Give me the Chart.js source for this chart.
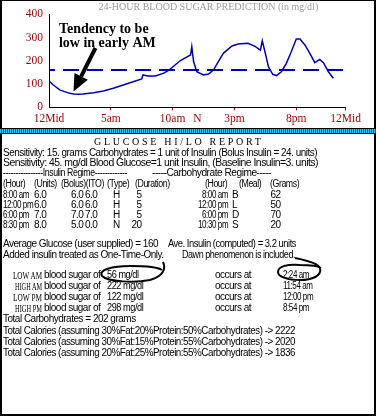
<!DOCTYPE html>
<html>
<head>
<meta charset="utf-8">
<script src="https://cdn.jsdelivr.net/npm/chart.js@4.4.1/dist/chart.umd.min.js"></script>
<style>
  body { margin: 0; background: #fff; width: 376px; height: 416px; position: relative; overflow: hidden; }
  #chartBox { position: absolute; left: 0; top: 0; width: 376px; height: 129px; box-sizing: border-box;
    border-style: solid; border-color: #000; border-width: 1px 2px 1px 2px; }
  #chartBox canvas { display: block; }
  #stripe { position: absolute; left: 0; top: 129px; width: 376px; height: 4px;
    background: repeating-linear-gradient(90deg, #30c8ff 0 1px, #0040d0 1px 2px); }
  #report { position: absolute; left: 0; top: 133px; width: 376px; height: 283px; box-sizing: border-box;
    border-style: solid; border-color: #000; border-width: 1px 2px 2px 2px; }
  .ln { position: absolute; white-space: pre; line-height: 11px; height: 11px; color: #000;
    font: 10px "Liberation Sans", Arial, sans-serif; letter-spacing: -0.5px; transform-origin: 0 0; }
  .ln.serif { font: 11px "Liberation Serif", serif; letter-spacing: 0; }
  .ln.head { font: 10px "Liberation Serif", serif; letter-spacing: 2.7px; }
  #marks { position: absolute; left: 0; top: 0; pointer-events: none; }
</style>
</head>
<body>
<div id="chartBox"><canvas id="bgChart" width="372" height="127"></canvas></div>
<div id="stripe"></div>
<div id="report"></div>
<svg id="marks" width="376" height="416">
  <path d="M163 262 C166 268, 164 276, 150 280 C135 283, 108 282, 102 276 C98 270, 112 266, 130 266 C145 266, 158 267, 162 270"
        fill="none" stroke="#000" stroke-width="2"/>
  <path d="M295 258 C305 260, 318 263, 320 268 C322 276, 312 280, 300 280 C288 280, 278 277, 278 272 C278 266, 288 264, 300 265 C310 265, 318 266, 321 268"
        fill="none" stroke="#000" stroke-width="2"/>
</svg>
<script>
// chart data
const hours = [0, 0.35, 0.9, 1.7, 2.0, 2.4, 2.75, 3.6, 4.4, 5.2, 6.0, 6.8, 7.5, 7.6, 8.0, 8.6, 9.25, 9.7,
  10.2, 10.6, 11.1, 11.45, 11.55, 11.7, 11.95, 12.5, 12.9, 13.3, 13.7, 14.1, 14.8, 15.3, 16.1, 16.7,
  17.1, 17.25, 17.5, 17.75, 17.9, 18.1, 18.4, 18.8, 19.2, 19.6, 20.0, 20.3, 20.7, 21.1, 21.5, 21.9,
  22.2, 22.6, 23.0];
const glucose = [113, 96, 74, 60, 57, 56, 57, 63, 70, 82, 96, 110, 122, 139, 135, 135, 146, 160,
  182, 200, 215, 225, 261, 196, 153, 139, 143, 160, 196, 232, 264, 272, 275, 261,
  246, 286, 232, 175, 160, 142, 136, 153, 189, 239, 294, 294, 268, 232, 192, 206,
  192, 153, 125];
const avgGlucose = 160;
const tickHours = [0, 5, 10, 12, 15, 20, 24];
const tickNames = ['12Mid', '5am', '10am', 'N', '3pm', '8pm', '12Mid'];
const chartTitle = '24-HOUR BLOOD SUGAR PREDICTION (in mg/dl)';
const noteLines = ['Tendency to be', 'low in early AM'];

// report data
const insulinHours = ['8:00 am', '12:00 pm', '6:00 pm', '8:30 pm'];
const insulinUnits = ['6.0', '6.0', '7.0', '8.0'];
const bolus = ['6.0', '6.0', '7.0', '5.0'];
const ito = ['6.0', '6.0', '7.0', '0.0'];
const insulinType = ['H', 'H', 'H', 'N'];
const duration = ['5', '5', '5', '20'];
const mealHours = ['8:00 am', '12:00 pm', '6:00 pm', '10:30 pm'];
const meals = ['B', 'L', 'D', 'S'];
const grams = ['62', '50', '70', '20'];
const hiloLabels = ['LOW AM', 'HIGH AM', 'LOW PM', 'HIGH PM'];
const hiloValues = ['56 mg/dl', '222 mg/dl', '122 mg/dl', '298 mg/dl'];
const hiloTimes = ['2:24 am', '11:54 am', '12:00 pm', '8:54 pm'];

const red = '#990000';
const blue = '#0000a8';

const noteLayer = {
    id: 'noteLayer',
    afterDatasetsDraw(chart) {
        const { ctx, chartArea, scales: { x, y } } = chart;
        ctx.save();

        ctx.fillStyle = '#9c9c9c';
        ctx.font = '10px "Liberation Serif"';
        ctx.textAlign = 'center';
        ctx.textBaseline = 'middle';
        ctx.fillText(chartTitle, (chartArea.left + chartArea.right) / 2 + 11, 6);

        ctx.fillStyle = '#000';
        ctx.font = 'bold 14px "Liberation Serif"';
        ctx.textAlign = 'left';
        ctx.textBaseline = 'alphabetic';
        ctx.fillText(noteLines[0], x.getPixelForValue(0.8), y.getPixelForValue(318));
        ctx.fillText(noteLines[1], x.getPixelForValue(0.8), y.getPixelForValue(261));

        // arrow pointing at the early morning low
        const tx = x.getPixelForValue(3.76), ty = y.getPixelForValue(255);
        const px = x.getPixelForValue(1.98), py = y.getPixelForValue(68);
        const len = Math.hypot(px - tx, py - ty);
        const ux = (px - tx) / len, uy = (py - ty) / len;
        const bx = px - ux * 17, by = py - uy * 17;
        ctx.strokeStyle = '#000';
        ctx.lineWidth = 4;
        ctx.beginPath();
        ctx.moveTo(tx, ty);
        ctx.lineTo(bx, by);
        ctx.stroke();
        ctx.beginPath();
        ctx.moveTo(px, py);
        ctx.lineTo(bx - uy * 7.5, by + ux * 7.5);
        ctx.lineTo(bx + uy * 7.5, by - ux * 7.5);
        ctx.closePath();
        ctx.fill();

        ctx.restore();
    },
};

new Chart(document.getElementById('bgChart'), {
    type: 'line',
    data: {
        datasets: [
            {
                data: hours.map((h, i) => ({ x: h, y: glucose[i] })),
                borderColor: blue,
                borderWidth: 1.5,
                pointRadius: 0,
                tension: 0,
                fill: false,
            },
            {
                data: [{ x: 0, y: avgGlucose }, { x: 24, y: avgGlucose }],
                borderColor: blue,
                borderWidth: 2,
                borderDash: [16, 8],
                borderDashOffset: 10,
                pointRadius: 0,
                fill: false,
            },
        ],
    },
    options: {
        responsive: false,
        animation: false,
        devicePixelRatio: 1,
        layout: { padding: { top: 13.3, right: 28.3, bottom: 0, left: 0 } },
        plugins: { legend: { display: false }, tooltip: { enabled: false } },
        scales: {
            x: {
                type: 'linear',
                min: 0,
                max: 24,
                afterBuildTicks: (scale) => {
                    scale.ticks = tickHours.map((v) => ({ value: v }));
                },
                afterFit: (scale) => {
                    scale.height = 20.7;
                },
                ticks: {
                    color: red,
                    autoSkip: false,
                    maxRotation: 0,
                    padding: 2,
                    font: { family: '"Liberation Serif"', size: 11.5 },
                    callback: (value, index) => tickNames[index],
                },
                grid: {
                    drawOnChartArea: false,
                    drawTicks: true,
                    tickLength: 3,
                    color: (c) => (c.tick && (c.tick.value === 0 || c.tick.value === 12)) ? 'rgba(0,0,0,0)' : red,
                },
                border: { color: '#000', width: 1 },
            },
            y: {
                min: 0,
                max: 400,
                afterFit: (scale) => {
                    scale.width = 47;
                },
                ticks: {
                    stepSize: 100,
                    color: red,
                    padding: 6,
                    font: { family: '"Liberation Serif"', size: 11.5 },
                },
                grid: { display: false, drawTicks: false },
                border: { color: '#000', width: 1 },
            },
        },
    },
    plugins: [noteLayer],
});

// text report below the chart
// opts: cls, sx (horizontal squeeze), width (squeeze to this width), right (x is the right edge)
function put(x, yc, text, opts = {}) {
    const el = document.createElement('div');
    el.className = 'ln' + (opts.cls ? ' ' + opts.cls : '');
    el.textContent = text;
    el.style.top = (yc - 5.5) + 'px';
    document.body.appendChild(el);
    const natural = el.getBoundingClientRect().width;
    let s = opts.sx || 1;
    if (opts.width) {
        s = opts.width / natural;
    }
    if (s !== 1) {
        el.style.transform = 'scaleX(' + s + ')';
    }
    el.style.left = (opts.right ? x - natural * s : x) + 'px';
}

const timeSx = 0.8;
const headSx = 0.88;

put(94, 141, 'GLUCOSE HI/LO REPORT', { cls: 'head' });
put(3, 152, 'Sensitivity: 15. grams Carbohydrates = 1 unit of Insulin (Bolus Insulin = 24. units)', { width: 314 });
put(3, 162, 'Sensitivity: 45. mg/dl Blood Glucose=1 unit Insulin, (Baseline Insulin=3. units)', { width: 315 });
put(3, 172.5, '----------------Insulin Regime-------------', { width: 124 });
put(152, 172.5, '-----Carbohydrate Regime-----', { width: 119 });

const headY = 183.5;
put(3, headY, '(Hour)', { sx: headSx });
put(34, headY, '(Units)', { sx: headSx });
put(61, headY, '(Bolus)(ITO)', { sx: headSx });
put(107, headY, '(Type)', { sx: headSx });
put(135, headY, '(Duration)', { sx: headSx });
put(205, headY, '(Hour)', { sx: headSx });
put(239, headY, '(Meal)', { sx: headSx });
put(270, headY, '(Grams)', { sx: headSx });

insulinHours.forEach((h, i) => {
    const yc = 194.3 + i * 10.2;
    put(3, yc, h, { sx: timeSx });
    put(34, yc, insulinUnits[i]);
    put(71, yc, bolus[i]);
    put(85, yc, ito[i]);
    put(113, yc, insulinType[i]);
    put(141.5, yc, duration[i], { right: true });
    put(228, yc, mealHours[i], { sx: timeSx, right: true });
    put(232, yc, meals[i]);
    put(270.5, yc, grams[i]);
});

put(3, 243.3, 'Average Glucose (user supplied) = 160');
put(168, 243.3, 'Ave. Insulin (computed) = 3.2 units', { width: 128 });
put(3, 254, 'Added insulin treated as One-Time-Only.');
put(182, 254, 'Dawn phenomenon is included.', { width: 113 });

hiloLabels.forEach((label, i) => {
    const yc = 274 + i * 11;
    const high = label.startsWith('HIGH');
    put(high ? 15 : 13, yc, label, { cls: 'serif', width: high ? 27 : 29 });
    put(44, yc, 'blood sugar of');
    put(107, yc, hiloValues[i], { sx: 0.92 });
    put(215, yc, 'occurs at');
    put(283, yc, hiloTimes[i], { sx: timeSx });
});

put(3, 318.5, 'Total Carbohydrates = 202 grams');
put(3, 330, 'Total Calories (assuming 30%Fat:20%Protein:50%Carbohydrates) -> 2222', { width: 292 });
put(3, 341, 'Total Calories (assuming 30%Fat:15%Protein:55%Carbohydrates) -> 2020', { width: 292 });
put(3, 352, 'Total Calories (assuming 20%Fat:25%Protein:55%Carbohydrates) -> 1836', { width: 292 });
</script>
</body>
</html>
